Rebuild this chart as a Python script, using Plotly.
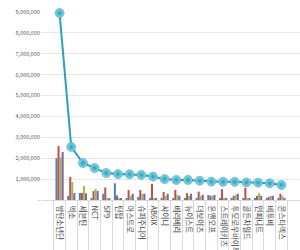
import plotly.graph_objects as go

categories = ["방탄소년단", "엑소", "세븐틴", "NCT", "SF9", "틴탑", "아스트로", "슈퍼주니어",
              "AB6IX", "샤이니", "베리베리", "뉴이스트", "더보이즈", "온앤오프", "스트레이키즈",
              "투모로우바이투게더", "골든차일드", "인피니트", "비투비", "몬스타엑스"]

series_blue = [2000000, 190000, 340000, 50000, 300000, 800000, 100000, 150000, 50000, 100000,
               50000, 100000, 100000, 240000, 100000, 100000, 50000, 100000, 100000, 100000]
series_red = [2580000, 1100000, 340000, 430000, 600000, 220000, 480000, 480000, 770000, 380000,
              480000, 330000, 400000, 200000, 520000, 200000, 580000, 200000, 150000, 300000]
series_green = [2050000, 860000, 670000, 530000, 100000, 60000, 200000, 300000, 50000, 200000,
                250000, 200000, 200000, 200000, 100000, 250000, 50000, 330000, 200000, 200000]
series_purple = [2300000, 330000, 320000, 430000, 50000, 50000, 300000, 300000, 50000, 300000,
                 200000, 300000, 250000, 240000, 100000, 300000, 50000, 200000, 200000, 100000]
total_index = [8950000, 2540000, 1770000, 1530000, 1290000, 1240000, 1230000, 1200000, 1120000,
               1000000, 960000, 960000, 920000, 880000, 870000, 870000, 840000, 830000, 800000, 720000]

y_tickvals = [0, 1000000, 2000000, 3000000, 4000000, 5000000, 6000000, 7000000, 8000000, 9000000]
y_ticktext = ["-", "1,000,000", "2,000,000", "3,000,000", "4,000,000", "5,000,000",
              "6,000,000", "7,000,000", "8,000,000", "9,000,000"]

fig = go.Figure()
for vals, col in [(series_blue, "#4F81BD"), (series_red, "#C0504D"),
                  (series_green, "#9BBB59"), (series_purple, "#8064A2")]:
    fig.add_trace(go.Bar(x=categories, y=vals, marker=dict(color=col, line=dict(width=0)),
                         showlegend=False))

fig.add_trace(go.Scatter(
    x=categories, y=total_index, mode="lines+markers", showlegend=False,
    line=dict(color="#2E9FBD", width=2),
    marker=dict(size=9, color="#8EDCEE",
                gradient=dict(type="radial", color="#2C9AB5"),
                line=dict(color="#2A93AD", width=0.5)),
    cliponaxis=False,
))

fig.update_layout(
    width=300, height=250,
    margin=dict(l=41, r=0, t=12, b=50),
    paper_bgcolor="white", plot_bgcolor="white",
    barmode="group", bargap=0.3, bargroupgap=0,
    font=dict(family="Noto Sans CJK KR, sans-serif", color="#404040"),
)
fig.update_xaxes(
    type="category", tickangle=90, tickfont=dict(size=7.5, color="#404040"),
    ticks="outside", tickson="boundaries", ticklen=60, tickcolor="#D9D9D9", tickwidth=1,
    ticklabelstandoff=3,
    showline=True, linecolor="#D9D9D9", linewidth=1, showgrid=False, automargin=False,
)
fig.update_yaxes(
    range=[0, 9000000], tickvals=y_tickvals, ticktext=y_ticktext,
    tickfont=dict(size=5.5, color="#595959"), showgrid=True, gridcolor="#E6E6E6",
    gridwidth=1, zeroline=False, ticks="", showline=False, automargin=False,
)

fig.write_html("out.html")
